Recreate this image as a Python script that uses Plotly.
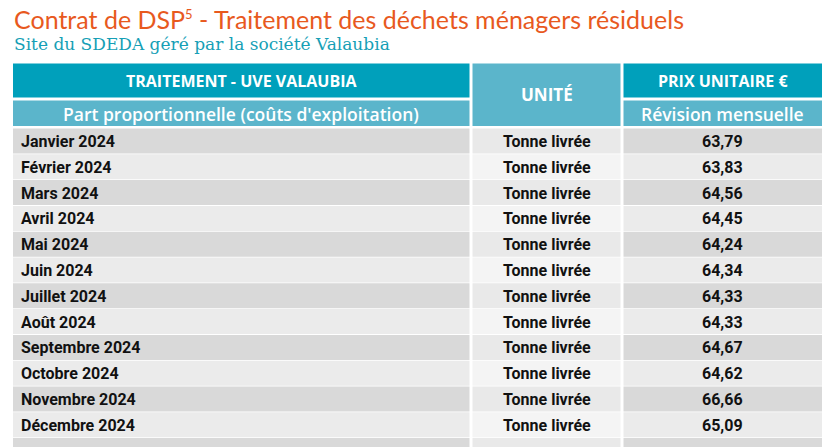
import plotly.graph_objects as go

# ---- data ----
title_main = "Contrat de DSP"
title_sup = "5"
title_rest = " - Traitement des déchets ménagers résiduels"
subtitle_text = "Site du SDEDA géré par la société Valaubia"
header_top = ["TRAITEMENT - UVE VALAUBIA", "UNITÉ", "PRIX UNITAIRE €"]
header_sub = ["Part proportionnelle (coûts d'exploitation)", "", "Révision mensuelle"]
months = ["Janvier 2024", "Février 2024", "Mars 2024", "Avril 2024", "Mai 2024",
          "Juin 2024", "Juillet 2024", "Août 2024", "Septembre 2024", "Octobre 2024",
          "Novembre 2024", "Décembre 2024", "PART FIXE"]
units = ["Tonne livrée", "Tonne livrée", "Tonne livrée", "Tonne livrée", "Tonne livrée",
         "Tonne livrée", "Tonne livrée", "Tonne livrée", "Tonne livrée", "Tonne livrée",
         "Tonne livrée", "Tonne livrée", ""]
prices = [63.79, 63.83, 64.56, 64.45, 64.24, 64.34, 64.33, 64.33, 64.67, 64.62,
          66.66, 65.09, None]

# ---- style / geometry ----
W, H = 837, 447
col_x0 = [13, 472.5, 623.5]
col_x1 = [469.5, 620.5, 822]
hdr1 = (63.5, 97.5)
hdr2 = (100.5, 126)
body_top = 128.5
row_h = 25.8
C_DARK = "#00a0bb"
C_LIGHT = "#5bb5cb"
C_ORANGE = "#e8591e"
C_TEAL = "#169fb6"
body_fill = [["#d9d9d9", "#ebebeb"], ["#e9e9e9", "#f4f4f4"], ["#d9d9d9", "#ebebeb"]]
FONT_HDR = "Open Sans"
FONT_BODY = "Roboto"

fig = go.Figure()
shapes = []
ann = []

def rect(x0, x1, y0, y1, color):
    shapes.append(dict(type="rect", xref="x", yref="y", x0=x0, x1=x1, y0=y0, y1=y1,
                       fillcolor=color, line=dict(width=0), layer="below"))

def text(x, y, s, size, color, family, weight=400, xanchor="center"):
    if not s:
        return
    ann.append(dict(xref="x", yref="y", x=x, y=y, text=s,
                    showarrow=False, xanchor=xanchor, yanchor="middle",
                    font=dict(size=size, color=color, family=family, weight=weight)))

# headers
for c in range(3):
    cx = (col_x0[c] + col_x1[c]) / 2
    if header_sub[c]:
        rect(col_x0[c], col_x1[c], hdr1[0], hdr1[1], C_DARK)
        rect(col_x0[c], col_x1[c], hdr2[0], hdr2[1], C_LIGHT)
        text(cx, (hdr1[0] + hdr1[1]) / 2, header_top[c], 16, "white", FONT_HDR, weight=700)
        text(cx, (hdr2[0] + hdr2[1]) / 2 + 1, header_sub[c], 17.5, "white", FONT_HDR, weight=600)
    else:
        rect(col_x0[c], col_x1[c], hdr1[0], hdr2[1], C_LIGHT)
        text(cx, (hdr1[0] + hdr2[1]) / 2, header_top[c], 17, "white", FONT_HDR, weight=700)

# body
for i, (m, u, p) in enumerate(zip(months, units, prices)):
    y0 = body_top + i * row_h
    y1 = y0 + row_h
    yc = (y0 + y1) / 2
    vals = [m, u, "" if p is None else f"{p:.2f}".replace(".", ",")]
    for c in range(3):
        rect(col_x0[c], col_x1[c], y0, y1 - 0.8, body_fill[c][i % 2])
    text(col_x0[0] + 6, yc, vals[0], 16, "#111111", FONT_BODY, weight=700, xanchor="left")
    text((col_x0[1] + col_x1[1]) / 2, yc, vals[1], 16, "#111111", FONT_BODY, weight=700)
    text((col_x0[2] + col_x1[2]) / 2, yc, vals[2], 16, "#111111", FONT_BODY, weight=700)

# titles
title_html = (f"{title_main}<sup><span style='font-size:13px'>{title_sup}</span></sup>"
              f"{title_rest}")
ann.append(dict(xref="x", yref="y", x=12, y=19, text=title_html, showarrow=False,
                xanchor="left", yanchor="middle",
                font=dict(size=25, color=C_ORANGE, family="Lato")))
ann.append(dict(xref="x", yref="y", x=12, y=44, text=subtitle_text, showarrow=False,
                xanchor="left", yanchor="middle",
                font=dict(size=17, color=C_TEAL, family="DejaVu Serif")))

fig.update_layout(
    width=W, height=H, margin=dict(l=0, r=0, t=0, b=0),
    paper_bgcolor="white", plot_bgcolor="white",
    xaxis=dict(range=[0, W], visible=False, fixedrange=True),
    yaxis=dict(range=[H, 0], visible=False, fixedrange=True),
    shapes=shapes, annotations=ann, showlegend=False,
)
fig.write_html("out.html", config={"displayModeBar": False},
               post_script="document.body.style.margin='0px';")
